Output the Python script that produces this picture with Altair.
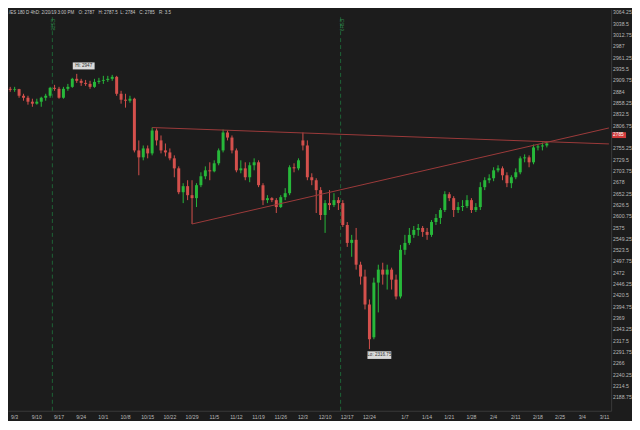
import altair as alt
import pandas as pd
import numpy as np

# ---------------- data ----------------
holidays = ["2018-12-25", "2019-01-01"]
all_days = [d for d in pd.bdate_range("2018-08-31", "2019-03-12")
            if d.strftime("%Y-%m-%d") not in holidays]
day_labels = [f"{d.month}/{d.day}" for d in all_days]

opens = [2890.25, 2888.0, 2889.5, 2874.5, 2870.0, 2861.0, 2856.5, 2861.0, 2870.0, 2874.5, 2892.5,
         2890.25, 2870.0, 2890.25, 2894.75, 2913.0, 2908.5, 2903.75, 2901.5, 2894.75, 2906.0,
         2908.5, 2910.5, 2913.0, 2917.5, 2879.0, 2865.5, 2863.25, 2867.75, 2750.25, 2734.5,
         2754.75, 2743.5, 2795.5, 2773.0, 2750.25, 2745.75, 2732.25, 2709.5, 2655.25, 2669.0,
         2648.5, 2641.75, 2671.25, 2691.5, 2705.0, 2702.75, 2721.0, 2750.25, 2791.0, 2779.5,
         2750.25, 2705.0, 2709.5, 2689.25, 2716.5, 2723.25, 2671.25, 2637.25, 2641.75, 2637.25,
         2621.5, 2644.0, 2653.0, 2712.0, 2709.5, 2773.0, 2761.5, 2689.25, 2682.5, 2660.0,
         2603.5, 2630.5, 2626.0, 2637.25, 2630.5, 2580.75, 2540.0, 2547.0, 2490.5, 2463.5,
         2400.0, 2325.5, 2449.75, 2479.25, 2468.0, 2479.25, 2456.5, 2418.25, 2524.25, 2540.0,
         2558.25, 2569.5, 2574.0, 2565.0, 2558.25, 2587.5, 2596.75, 2614.75, 2650.75, 2641.75,
         2614.75, 2621.5, 2623.75, 2637.25, 2614.75, 2621.5, 2666.75, 2682.5, 2687.0, 2705.0,
         2709.5, 2693.75, 2675.75, 2689.25, 2700.5, 2732.25, 2734.5, 2723.25, 2757.0, 2759.25,
         2761.5]
highs = [2894.75, 2894.75, 2890.25, 2879.0, 2874.5, 2867.75, 2867.75, 2872.25, 2879.0, 2894.75, 2899.25,
         2894.75, 2894.75, 2901.5, 2915.25, 2924.25, 2913.0, 2910.5, 2908.5, 2913.0, 2915.25,
         2919.75, 2919.75, 2922.0, 2919.75, 2885.75, 2879.0, 2874.5, 2870.0, 2773.0, 2761.5,
         2761.5, 2802.25, 2800.0, 2784.25, 2766.0, 2754.75, 2739.0, 2714.0, 2675.75, 2682.5,
         2682.5, 2675.75, 2700.5, 2714.0, 2723.25, 2727.75, 2754.75, 2797.75, 2795.5, 2784.25,
         2754.75, 2727.75, 2723.25, 2723.25, 2732.25, 2727.75, 2675.75, 2648.5, 2644.0, 2641.75,
         2648.5, 2664.5, 2716.5, 2721.0, 2732.25, 2791.0, 2773.0, 2698.25, 2687.0, 2666.75,
         2637.25, 2660.0, 2653.0, 2644.0, 2637.25, 2587.5, 2558.25, 2574.0, 2497.25, 2479.25,
         2411.5, 2461.0, 2490.5, 2495.0, 2490.5, 2483.75, 2468.0, 2535.5, 2558.25, 2574.0,
         2578.5, 2583.0, 2578.5, 2574.0, 2592.0, 2605.75, 2619.25, 2657.5, 2655.25, 2646.25,
         2632.75, 2637.25, 2648.5, 2641.75, 2630.5, 2678.0, 2689.25, 2696.0, 2712.0, 2716.5,
         2714.0, 2700.5, 2693.75, 2709.5, 2736.75, 2741.25, 2739.0, 2763.75, 2763.75, 2768.25,
         2770.5]
lows = [2883.5, 2883.5, 2870.0, 2863.25, 2854.25, 2849.5, 2854.25, 2849.5, 2863.25, 2870.0, 2885.75,
        2867.75, 2867.75, 2885.75, 2892.5, 2903.75, 2897.0, 2897.0, 2890.25, 2892.5, 2901.5,
        2901.5, 2906.0, 2908.5, 2874.5, 2856.5, 2847.5, 2858.75, 2745.75, 2693.75, 2727.75,
        2732.25, 2739.0, 2761.5, 2743.5, 2736.75, 2727.75, 2689.25, 2650.75, 2630.5, 2637.25,
        2583.0, 2621.5, 2666.75, 2684.75, 2682.5, 2700.5, 2716.5, 2745.75, 2773.0, 2743.5,
        2700.5, 2698.25, 2682.5, 2678.0, 2705.0, 2666.75, 2626.0, 2630.5, 2632.75, 2608.0,
        2619.25, 2637.25, 2648.5, 2700.5, 2705.0, 2750.25, 2682.5, 2671.25, 2608.0, 2592.0,
        2562.75, 2614.75, 2621.5, 2614.75, 2576.25, 2531.0, 2508.5, 2479.25, 2445.25, 2388.75,
        2298.5, 2321.0, 2382.0, 2445.25, 2434.0, 2434.0, 2411.5, 2413.75, 2513.0, 2535.5,
        2551.5, 2556.0, 2553.75, 2547.0, 2553.75, 2580.75, 2583.0, 2610.25, 2635.0, 2599.0,
        2608.0, 2612.5, 2619.25, 2608.0, 2610.25, 2614.75, 2660.0, 2675.75, 2680.25, 2700.5,
        2682.5, 2666.75, 2664.5, 2684.75, 2696.0, 2723.25, 2712.0, 2718.75, 2750.25, 2750.25,
        2757.0]
closes = [2888.0, 2889.5, 2874.5, 2870.0, 2861.0, 2856.5, 2861.0, 2870.0, 2874.5, 2892.5, 2890.25,
          2870.0, 2890.25, 2894.75, 2913.0, 2908.5, 2903.75, 2901.5, 2894.75, 2906.0, 2908.5,
          2910.5, 2913.0, 2917.5, 2879.0, 2865.5, 2863.25, 2867.75, 2750.25, 2734.5, 2754.75,
          2743.5, 2795.5, 2773.0, 2750.25, 2745.75, 2732.25, 2709.5, 2655.25, 2669.0, 2648.5,
          2641.75, 2671.25, 2691.5, 2705.0, 2702.75, 2721.0, 2750.25, 2791.0, 2779.5, 2750.25,
          2705.0, 2709.5, 2689.25, 2716.5, 2723.25, 2671.25, 2637.25, 2641.75, 2637.25, 2621.5,
          2644.0, 2653.0, 2712.0, 2709.5, 2727.75, 2761.5, 2689.25, 2682.5, 2660.0, 2603.5,
          2630.5, 2626.0, 2637.25, 2630.5, 2580.75, 2540.0, 2547.0, 2490.5, 2463.5, 2400.0,
          2321.0, 2449.75, 2479.25, 2468.0, 2479.25, 2456.5, 2418.25, 2524.25, 2540.0, 2558.25,
          2569.5, 2574.0, 2565.0, 2558.25, 2587.5, 2596.75, 2614.75, 2650.75, 2641.75, 2614.75,
          2621.5, 2623.75, 2637.25, 2614.75, 2621.5, 2666.75, 2682.5, 2687.0, 2705.0, 2709.5,
          2693.75, 2675.75, 2689.25, 2700.5, 2732.25, 2734.5, 2723.25, 2757.0, 2759.25, 2761.5,
          2766.0]

x_ticks = ["9/3", "9/10", "9/17", "9/24", "10/1", "10/8", "10/15", "10/22", "10/29", "11/5",
           "11/12", "11/19", "11/26", "12/3", "12/10", "12/17", "12/24", "1/7", "1/14", "1/21",
           "1/28", "2/4", "2/11", "2/18", "2/25", "3/4", "3/11"]
y_ticks = [3064.25, 3038.5, 3012.75, 2987, 2961.25, 2935.5, 2909.75, 2884, 2858.25, 2832.5,
           2806.75, 2755.25, 2729.5, 2703.75, 2678, 2652.25, 2626.5, 2600.75, 2575, 2549.25,
           2523.5, 2497.75, 2472, 2446.25, 2420.5, 2394.75, 2369, 2343.25, 2317.5, 2291.75,
           2266, 2240.25, 2214.5, 2188.75]

trend_names = ["upper", "upper", "lower", "lower"]
trend_days = ["10/16", "3/12", "10/29", "3/12"]
trend_prices = [2802.25, 2765.0, 2583.0, 2801.25]

roll_days = ["9/13", "12/13"]
roll_texts = ["ESZ8", "ESH9"]

extreme_days = ["9/21", "12/24"]
extreme_prices = [2924.25, 2298.5]
extreme_texts = ["Hi: 2947", "Lo: 2316.75"]

last_price = [2785]
header_items = ["/ES 180 D 4h", "D: 2/20/19 3:00 PM", "O: 2787", "H: 2787.5", "L: 2784", "C: 2785", "R: 3.5"]

# ---------------- style ----------------
BG = "#1c1c1c"
UP = "#27b83a"
DOWN = "#d4504c"
TREND = "#9c3a3a"
ROLL = "#1e6336"
TXT = "#b8b8b8"
FONT = "Liberation Sans"
W, H = 607, 404
header_px = [1, 28, 71, 91, 113, 132, 152]

n = len(closes)
df = pd.DataFrame({"day": day_labels[:n], "open": opens, "high": highs,
                   "low": lows, "close": closes})
df["dir"] = np.where(df["close"] >= df["open"], "up", "down")

xscale = alt.Scale(type="band", domain=day_labels, paddingInner=0, paddingOuter=0)
yscale = alt.Scale(domain=[2158.5, 3071.0], nice=False, zero=False)

xaxis = alt.Axis(values=x_ticks, labelAngle=0, labelFontSize=5.2, labelColor=TXT, ticks=False,
                 domainColor="#3a3a3a", title=None, labelPadding=4, grid=False, labelFont=FONT,
                 labelOverlap=False, labelSeparation=0)
yaxis = alt.Axis(orient="right", values=y_ticks, labels=False, ticks=False,
                 domainColor="#3a3a3a", title=None, grid=False)

color = alt.Color("dir:N", scale=alt.Scale(domain=["up", "down"], range=[UP, DOWN]), legend=None)

base = alt.Chart(df).encode(x=alt.X("day:O", scale=xscale, axis=xaxis))
wick = base.mark_rule(strokeWidth=1).encode(
    y=alt.Y("low:Q", scale=yscale, axis=yaxis), y2="high:Q", color=color)
body = base.mark_bar(size=3).encode(y="open:Q", y2="close:Q", color=color)

# price-axis labels as text on the shared y scale
ylab_df = pd.DataFrame({"v": y_ticks})
ylabels = alt.Chart(ylab_df).mark_text(align="left", baseline="middle", fontSize=5.2,
                                       color=TXT, font=FONT).encode(
    x=alt.value(W + 2), y="v:Q", text=alt.Text("v:Q", format=".2~f"))

trend_df = pd.DataFrame({"name": trend_names, "day": trend_days, "price": trend_prices})
trend = alt.Chart(trend_df).mark_line(color=TREND, strokeWidth=1).encode(
    x=alt.X("day:O"), y="price:Q", detail="name:N")

roll_df = pd.DataFrame({"day": roll_days, "t": roll_texts})
roll = alt.Chart(roll_df).mark_rule(color=ROLL, strokeDash=[4, 3], strokeWidth=1).encode(
    x=alt.X("day:O", bandPosition=1), y=alt.value(8), y2=alt.value(H))
roll_lbl = alt.Chart(roll_df).mark_text(angle=90, align="left", baseline="middle", fontSize=4.5,
                                        color="#2f8a4a", font=FONT, dx=1).encode(
    x=alt.X("day:O", bandPosition=1), y=alt.value(9), text="t:N")

ext_df = pd.DataFrame({"day": extreme_days, "price": extreme_prices, "t": extreme_texts})
hi_df = ext_df.iloc[[0]]
lo_df = ext_df.iloc[[1]]
box_path = "M-1,-0.32H1V0.32H-1Z"
hi_box = alt.Chart(hi_df).mark_point(shape=box_path, filled=True, size=484, color="#d9d9d9",
                                     opacity=1, xOffset=7, yOffset=-8).encode(x="day:O", y="price:Q")
hi_txt = alt.Chart(hi_df).mark_text(fontSize=4.6, color="#333333", font=FONT, dx=7, dy=-8).encode(
    x="day:O", y="price:Q", text="t:N")
lo_box = alt.Chart(lo_df).mark_point(shape=box_path, filled=True, size=576, color="#d9d9d9",
                                     opacity=1, xOffset=10, yOffset=6).encode(x="day:O", y="price:Q")
lo_txt = alt.Chart(lo_df).mark_text(fontSize=4.6, color="#333333", font=FONT, dx=10, dy=6).encode(
    x="day:O", y="price:Q", text="t:N")

lp_df = pd.DataFrame({"price": last_price})
lp_box = alt.Chart(lp_df).mark_point(shape="M-1,-0.42H1V0.42H-1Z", filled=True, size=196,
                                     color="#d23b3b", opacity=1).encode(
    x=alt.value(W + 8), y="price:Q")
lp_txt = alt.Chart(lp_df).mark_text(fontSize=4.8, color="#ffffff", font=FONT, align="left").encode(
    x=alt.value(W + 2), y="price:Q", text=alt.Text("price:Q", format="d"))

header_layers = []
for t, px in zip(header_items, header_px):
    header_layers.append(
        alt.Chart(pd.DataFrame({"t": [t]})).mark_text(
            align="left", baseline="middle", fontSize=4.5, color="#c8c8c8", font=FONT).encode(
            x=alt.value(px), y=alt.value(4), text="t:N"))

chart = alt.layer(wick, body, roll, trend, ylabels, roll_lbl, hi_box, hi_txt, lo_box, lo_txt,
                  lp_box, lp_txt, *header_layers).properties(
    width=W, height=H, background=BG,
    autosize=alt.AutoSizeParams(type="none"),
    padding={"left": 0, "top": 0, "right": 21, "bottom": 9},
).configure_view(stroke=None, fill=BG)

chart.save("out.html", embed_options={"renderer": "svg", "actions": False})
